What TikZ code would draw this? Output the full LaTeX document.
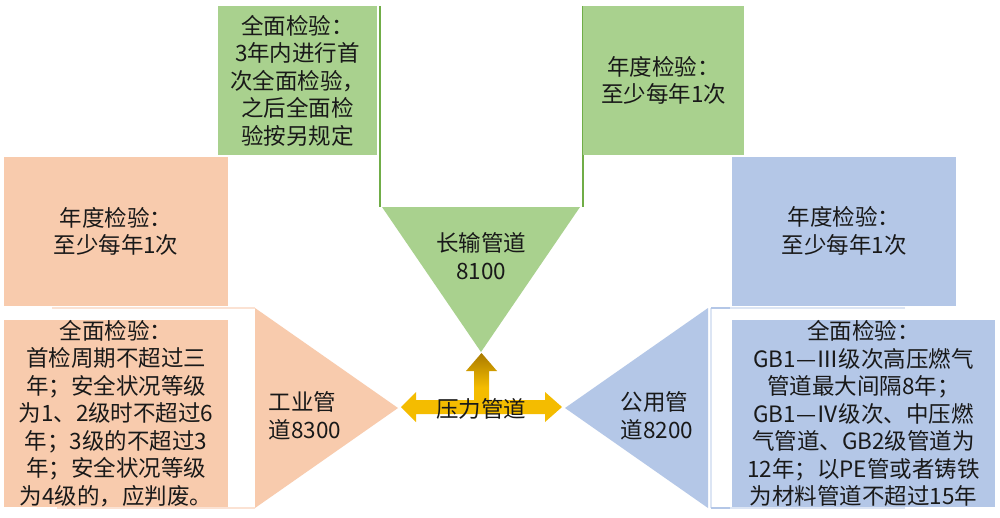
\documentclass[tikz,border=0pt]{standalone}
\usepackage{fontspec}
\setmainfont{Noto Sans CJK SC}
\usetikzlibrary{calc,positioning}
\definecolor{color_green}{HTML}{A9D18E}
\definecolor{color_green_line}{HTML}{70AD47}
\definecolor{color_peach}{HTML}{F8CBAD}
\definecolor{color_peach_line}{HTML}{FBE2D3}
\definecolor{color_blue}{HTML}{B4C7E7}
\definecolor{color_blue_line}{HTML}{DCE5F4}
\definecolor{color_gold_top}{HTML}{A97A00}
\definecolor{color_gold}{HTML}{F4BC00}

\begin{document}
\begin{tikzpicture}[x=1pt,y=-1pt,
		every node/.style={font=\fontsize{22.5}{27.5}\selectfont,align=center,inner sep=0pt,text=black!90},
		box/.style={minimum width=224,minimum height=149}]
	\useasboundingbox[fill=white] (0, 0) rectangle (1000, 517);
	% Points
	\coordinate (GL) at (382, 207);
	\coordinate (GR) at (580, 207);
	\coordinate (GA) at (481, 352);
	\coordinate (PT) at (255, 308);
	\coordinate (PB) at (255, 508);
	\coordinate (PA) at (398, 408);
	\coordinate (BT) at (708, 308);
	\coordinate (BB) at (708, 508);
	\coordinate (BA) at (565, 408);

	% Brackets
	\draw[line width=2pt, color_green_line]
		(380, 6) -- (380, 207)
		(583, 6) -- (583, 207)
		;
	\draw[line width=1.5pt, color_peach_line]
		(52, 308) -- (PT)
		(57, 508) -- (PB)
		;
	\draw[line width=1.5pt, color_blue_line]
		(711, 308) -- (905, 308)
		(711, 508) -- (905, 508)
		(711, 308) -- (711, 508)
		;
	\draw[line width=1.5pt, color_blue]
		(711, 308) -- (730, 308)
		(711, 508) -- (730, 508)
		;

	% Triangles
	\fill[color_green] (GL) -- (GR) -- (GA) -- cycle;
	\fill[color_peach] (PT) -- (PA) -- (PB) -- cycle;
	\fill[color_blue] (BT) -- (BA) -- (BB) -- cycle;
	\node (long) at (481, 256) {长输管道\\8100};
	\node[align=left] (indus) at (305, 416) {工业管\\道8300};
	\node[align=left] (public) at (657, 416) {公用管\\道8200};

	% Boxes
	\node[box, fill=color_green, minimum width=159] (longfull) at (297.5, 80.5)
		{全面检验：\\3年内进行首\\次全面检验，\\之后全面检\\验按另规定};
	\node[box, fill=color_green, minimum width=161] (longyear) at (663.5, 80.5)
		{年度检验：\\至少每年1次};
	\node[box, fill=color_peach] (indusyear) at (116, 231.5)
		{年度检验：\\至少每年1次};
	\node[box, fill=color_peach, minimum height=187] (indusfull) at (116, 413.5)
		{全面检验：\\首检周期不超过三\\年；安全状况等级\\为1、2级时不超过6\\年；3级的不超过3\\年；安全状况等级\\为4级的，应判废。};
	\node[box, fill=color_blue] (publicyear) at (844, 231)
		{年度检验：\\至少每年1次};
	\node[box, fill=color_blue, minimum width=263, minimum height=187] (publicfull) at (863.5, 413.5)
		{全面检验：\\GB1—Ⅲ级次高压燃气\\管道最大间隔8年；\\GB1—Ⅳ级次、中压燃\\气管道、GB2级管道为\\12年；以PE管或者铸铁\\为材料管道不超过15年};

	% Arrows
	\shade[top color=color_gold_top, bottom color=color_gold, middle color=color_gold]
		(401, 407) -- (416, 392) -- (416, 400) -- (474, 400) -- (474, 371) --
		(466, 371) -- (481.5, 353) -- (497, 371) -- (489, 371) -- (489, 400) --
		(545, 400) -- (545, 392) -- (562, 407) -- (545, 422) -- (545, 414) --
		(416, 414) -- (416, 422) -- cycle;
	\node (pressure) at (481, 409) {压力管道};
\end{tikzpicture}
\end{document}
